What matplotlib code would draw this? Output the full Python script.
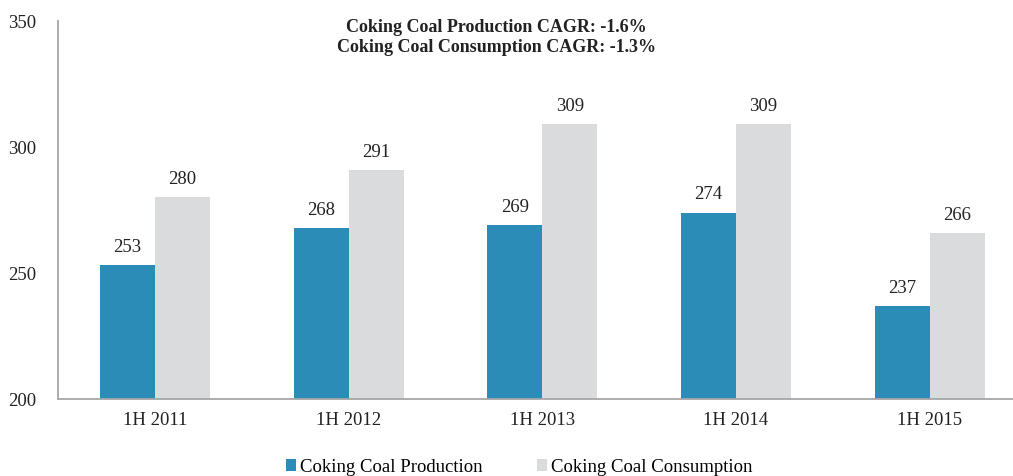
import matplotlib
matplotlib.use("Agg")
import matplotlib.pyplot as plt
import numpy as np

plt.rcParams['font.family'] = ['Liberation Serif', 'DejaVu Serif']

periods = ["1H 2011", "1H 2012", "1H 2013", "1H 2014", "1H 2015"]
production = [253, 268, 269, 274, 237]
consumption = [280, 291, 309, 309, 266]

fig = plt.figure(figsize=(10.13, 4.77), dpi=100)
ax = fig.add_axes([58 / 1013, 1 - 400 / 477, 955 / 1013, 378 / 477])

x = np.arange(len(periods))
w = 0.284
b1 = ax.bar(x - w / 2, production, w, color="#2B8CB8", label="Coking Coal Production")
b2 = ax.bar(x + w / 2, consumption, w, color="#DADBDD", label="Coking Coal Consumption")

for bars in (b1, b2):
    for r in bars:
        ax.text(r.get_x() + r.get_width() / 2, r.get_height() + 4, "%d" % r.get_height(),
                ha="center", va="bottom", fontsize=13.5, color="#222222")

ax.set_ylim(200, 350)
ax.set_yticks([200, 250, 300, 350])
ax.set_xlim(-0.5, 4.43)
ax.set_xticks(x)
ax.set_xticklabels(periods)
ax.tick_params(axis="both", length=0, labelsize=13.5, colors="#222222")
ax.tick_params(axis="y", pad=16)
ax.tick_params(axis="x", pad=9)

for s in ("top", "right"):
    ax.spines[s].set_visible(False)
for s in ("left", "bottom"):
    ax.spines[s].set_color("#A6A6A6")
    ax.spines[s].set_linewidth(1.3)

fig.text(496 / 1013, 1 - 28 / 477, "Coking Coal Production CAGR: -1.6%",
         ha="center", va="center", fontsize=13, fontweight="bold", color="#222222")
fig.text(497 / 1013, 1 - 48 / 477, "Coking Coal Consumption CAGR: -1.3%",
         ha="center", va="center", fontsize=13, fontweight="bold", color="#222222")

fig.legend(loc="center", bbox_to_anchor=(519 / 1013, 1 - 468 / 477), ncol=2,
           frameon=False, fontsize=13.5, handlelength=0.55, handleheight=0.55,
           handletextpad=0.2, columnspacing=2.9)

fig.savefig("out.png", dpi=100)
